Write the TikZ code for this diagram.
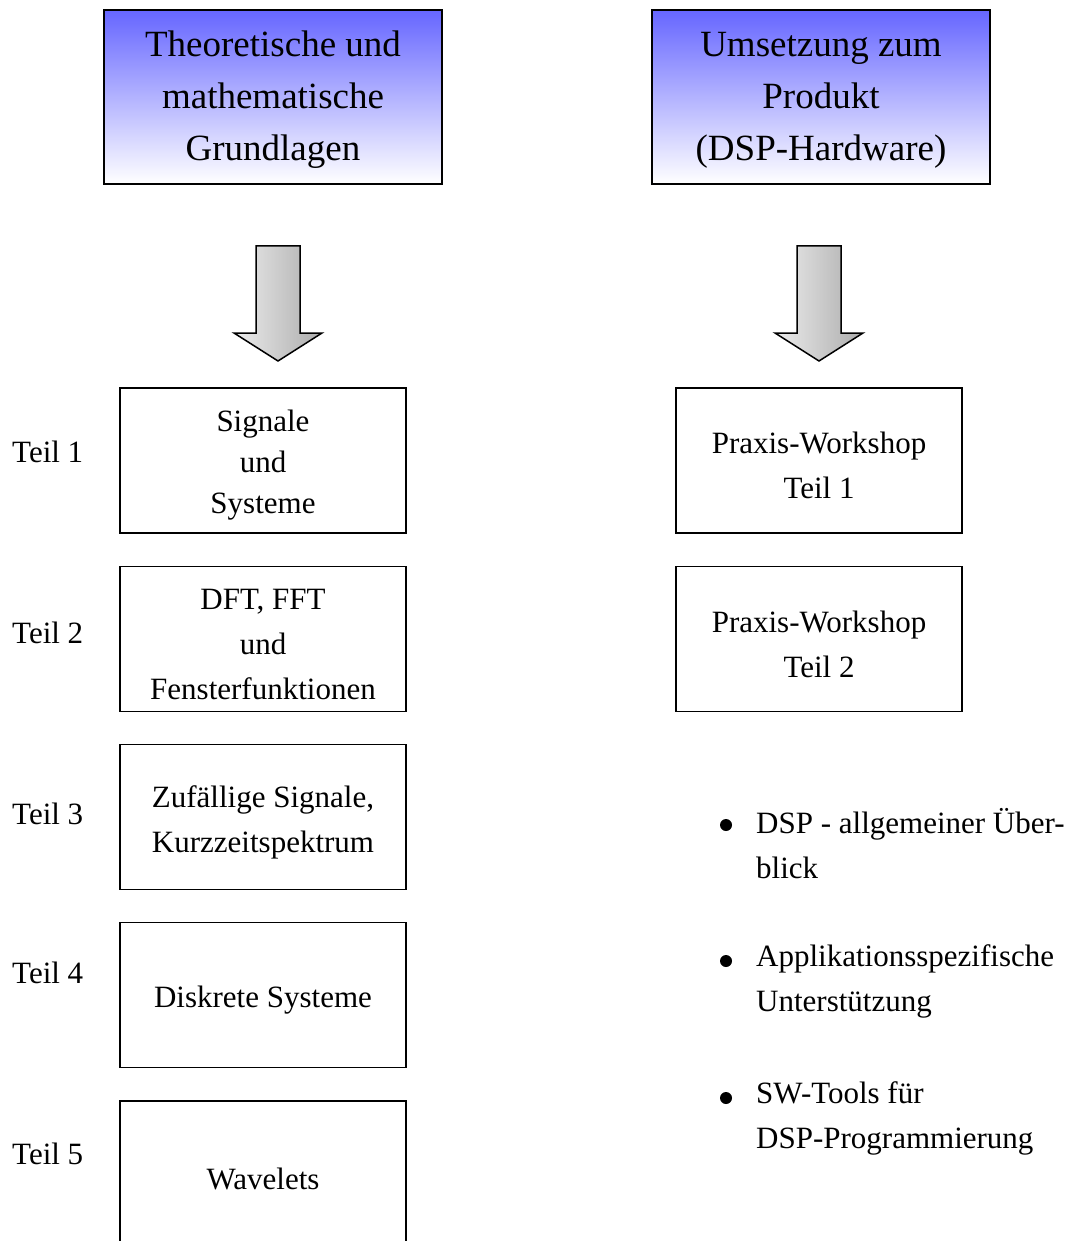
\documentclass[tikz,border=0pt]{standalone}
\usepackage{fontspec}
\setmainfont{Liberation Serif}
\usetikzlibrary{positioning}

\tikzset{
  headbox/.style={draw, line width=1.5pt, minimum width=338, minimum height=174,
    top color=blue!60!white, bottom color=white},
  headtext/.style={align=center, yshift=-3pt, font=\fontsize{37}{52}\selectfont},
  partbox/.style={draw, line width=1.5pt, minimum width=286, minimum height=145},
  boxtext/.style={align=center, yshift=-5pt, font=\fontsize{31}{45}\selectfont},
  teil/.style={anchor=west, inner sep=0pt, font=\fontsize{31}{45}\selectfont},
  itemtext/.style={anchor=north west, inner sep=0pt, align=left, font=\fontsize{31}{45}\selectfont},
  dot/.style={circle, fill=black, inner sep=0pt, minimum size=12pt},
  bigarrow/.style={draw, line width=1.5pt, left color=gray!15, right color=gray!65}
}

\newcommand{\downarrowshape}[2]{%
  \draw[bigarrow] (#1-22,#2) -- (#1+22,#2) -- (#1+22,#2-87) -- (#1+44,#2-87)
    -- (#1,#2-115) -- (#1-44,#2-87) -- (#1-22,#2-87) -- cycle;}

\begin{document}
\begin{tikzpicture}[x=1pt, y=1pt]

  \useasboundingbox (0,0) rectangle (1080,-1241);

  % top boxes
  \draw (273,-97) node[headbox, label={[headtext]center:{Theoretische und\\mathematische\\Grundlagen}}] (theo) {};
  \draw (821,-97) node[headbox, label={[headtext]center:{Umsetzung zum\\Produkt\\(DSP-Hardware)}}] (prod) {};

  % arrows
  \downarrowshape{278}{-246}
  \downarrowshape{819}{-246}

  % left column
  \draw (263,-460.5) node[partbox, label={[boxtext, font=\fontsize{31}{41}\selectfont]center:{Signale\\und\\Systeme}}] (sig) {};
  \draw (263,-639) node[partbox, label={[boxtext]center:{DFT, FFT\\und\\Fensterfunktionen}}] (dft) {};
  \draw (263,-817) node[partbox, label={[boxtext]center:{Zufällige Signale,\\Kurzzeitspektrum}}] (zuf) {};
  \draw (263,-995) node[partbox, label={[boxtext]center:{Diskrete Systeme}}] (disk) {};
  \draw (263,-1173.5) node[partbox, label={[boxtext]center:{Wavelets}}] (wav) {};

  \draw (12,-452) node[teil] (t1) {Teil 1};
  \draw (12,-633) node[teil] (t2) {Teil 2};
  \draw (12,-814) node[teil] (t3) {Teil 3};
  \draw (12,-973) node[teil] (t4) {Teil 4};
  \draw (12,-1154) node[teil] (t5) {Teil 5};

  % right column
  \draw (819,-460.5) node[partbox, label={[boxtext]center:{Praxis-Workshop\\Teil 1}}] (pw1) {};
  \draw (819,-639) node[partbox, label={[boxtext]center:{Praxis-Workshop\\Teil 2}}] (pw2) {};

  % bullet list
  \draw (726,-825) node[dot] (d1) {};
  \draw (756,-808) node[itemtext] (i1) {DSP - allgemeiner Über-\\blick};
  \draw (726,-961) node[dot] (d2) {};
  \draw (756,-944) node[itemtext] (i2) {Applikationsspezifische\\Unterstützung};
  \draw (726,-1098) node[dot] (d3) {};
  \draw (756,-1081) node[itemtext] (i3) {SW-Tools für\\DSP-Programmierung};

\end{tikzpicture}
\end{document}
